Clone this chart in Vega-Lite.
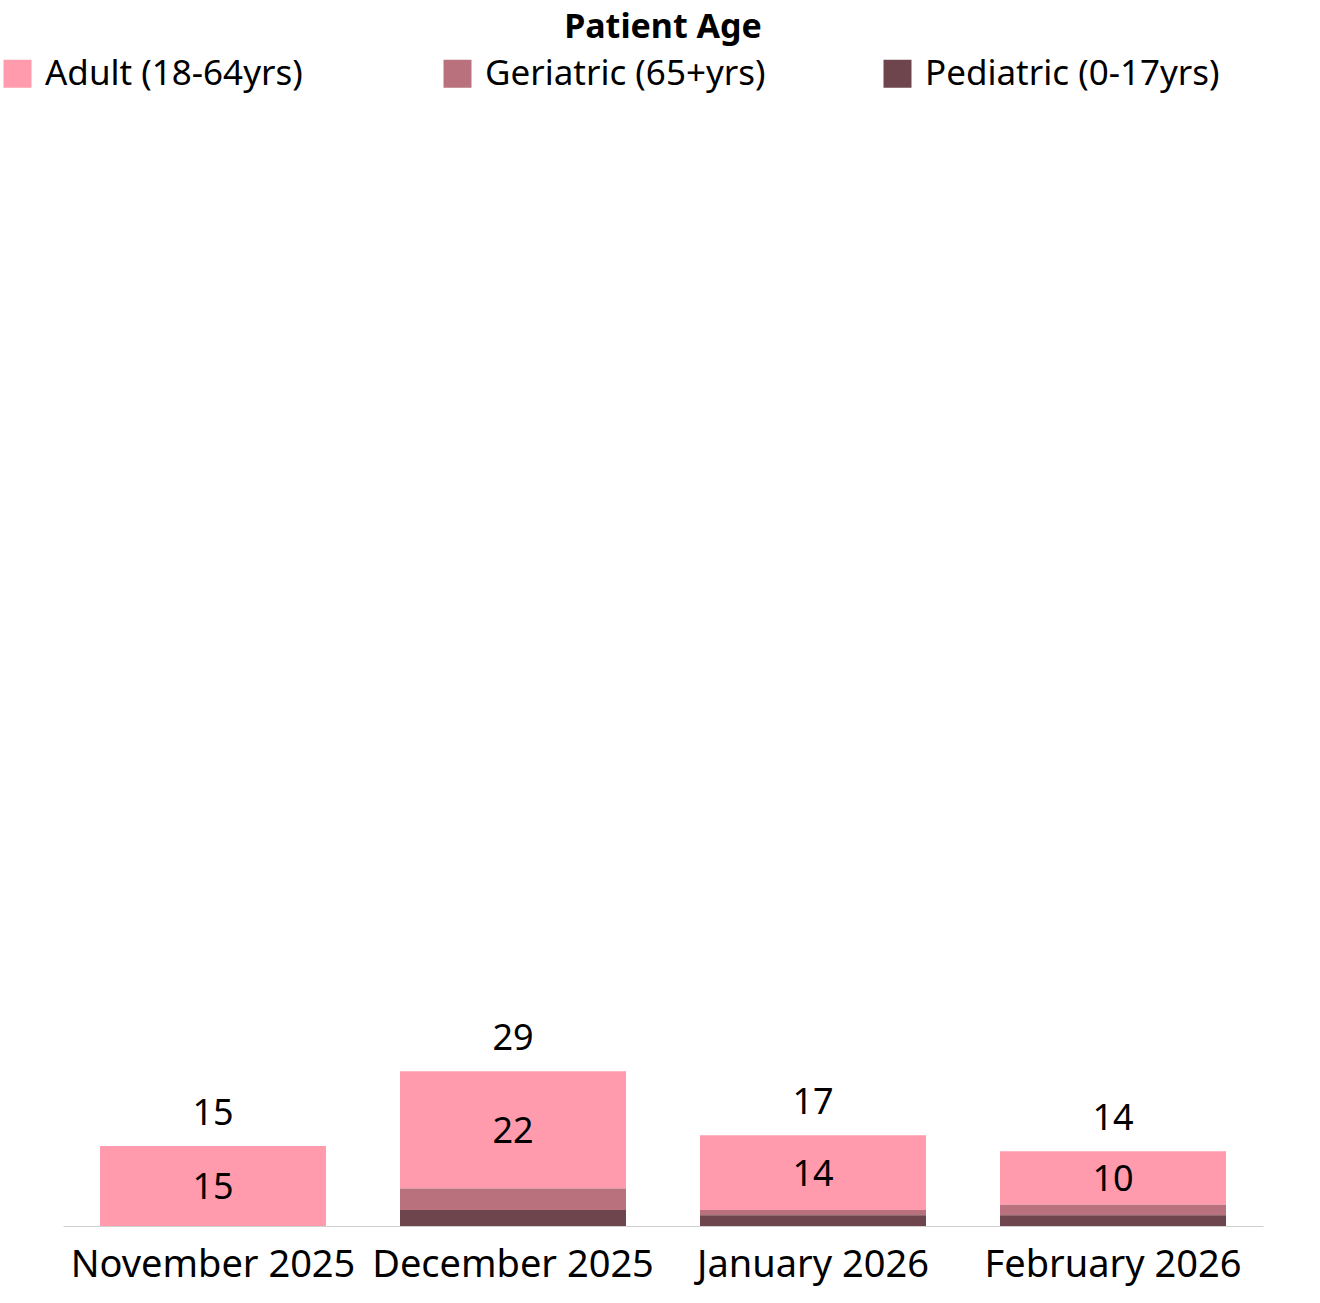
{
  "$schema": "https://vega.github.io/schema/vega-lite/v6.json",
  "width": 1200,
  "height": 1116,
  "autosize": {"type": "none"},
  "padding": {"left": 63, "top": 110, "right": 57, "bottom": 77},
  "background": "white",
  "config": {"view": {"stroke": null}},
  "title": {
    "text": "Patient Age",
    "font": "Noto Sans",
    "fontSize": 34,
    "fontWeight": "bold",
    "color": "#000000",
    "anchor": "middle",
    "frame": "group",
    "baseline": "middle",
    "offset": 0,
    "dy": 6
  },
  "data": {
    "values": [
      {"month": "November 2025", "age": "Adult (18-64yrs)", "count": 15},
      {"month": "December 2025", "age": "Adult (18-64yrs)", "count": 22},
      {"month": "December 2025", "age": "Geriatric (65+yrs)", "count": 4},
      {"month": "December 2025", "age": "Pediatric (0-17yrs)", "count": 3},
      {"month": "January 2026", "age": "Adult (18-64yrs)", "count": 14},
      {"month": "January 2026", "age": "Geriatric (65+yrs)", "count": 1},
      {"month": "January 2026", "age": "Pediatric (0-17yrs)", "count": 2},
      {"month": "February 2026", "age": "Adult (18-64yrs)", "count": 10},
      {"month": "February 2026", "age": "Geriatric (65+yrs)", "count": 2},
      {"month": "February 2026", "age": "Pediatric (0-17yrs)", "count": 2}
    ]
  },
  "transform": [
    {"joinaggregate": [{"op": "sum", "field": "count", "as": "total"}], "groupby": ["month"]},
    {"stack": "count", "groupby": ["month"], "sort": [{"field": "age", "order": "descending"}], "as": ["y0", "y1"]},
    {"calculate": "(datum.y0 + datum.y1) / 2", "as": "mid"}
  ],
  "encoding": {
    "x": {
      "field": "month",
      "type": "nominal",
      "sort": ["November 2025", "December 2025", "January 2026", "February 2026"],
      "scale": {"paddingInner": 0.2467, "paddingOuter": 0.1233},
      "axis": {
        "title": null,
        "labelAngle": 0,
        "ticks": false,
        "domainColor": "#d0d0d0",
        "domainWidth": 1,
        "labelFont": "Noto Sans",
        "labelFontSize": 38,
        "labelColor": "#000000",
        "labelPadding": 20,
        "labelLimit": 400
      }
    }
  },
  "layer": [
    {
      "mark": {"type": "bar"},
      "encoding": {
        "y": {"field": "y1", "type": "quantitative", "scale": {"domain": [0, 209], "nice": false, "zero": true}, "axis": null},
        "y2": {"field": "y0"},
        "color": {
          "field": "age",
          "type": "nominal",
          "scale": {
            "domain": ["Adult (18-64yrs)", "Geriatric (65+yrs)", "Pediatric (0-17yrs)"],
            "range": ["#FF9BAC", "#B9717E", "#6E444D"]
          },
          "legend": {
            "title": null,
            "orient": "none",
            "legendX": -63,
            "legendY": -54,
            "direction": "horizontal",
            "columns": 3,
            "gridAlign": "all",
            "columnPadding": 100,
            "symbolType": "square",
            "symbolSize": 784,
            "symbolStrokeWidth": 0,
            "symbolOpacity": 1,
            "labelFont": "Noto Sans",
            "labelFontSize": 35,
            "labelColor": "#000000",
            "labelOffset": 10,
            "labelLimit": 500
          }
        }
      }
    },
    {
      "transform": [{"filter": "datum.age === 'Adult (18-64yrs)'"}],
      "mark": {"type": "text", "font": "Noto Sans", "fontSize": 36, "color": "#000000", "baseline": "middle", "dy": 2},
      "encoding": {
        "y": {"field": "mid", "type": "quantitative"},
        "text": {"field": "count", "type": "quantitative"}
      }
    },
    {
      "transform": [{"filter": "datum.age === 'Adult (18-64yrs)'"}],
      "mark": {"type": "text", "font": "Noto Sans", "fontSize": 36, "color": "#000000", "baseline": "middle", "dy": -32},
      "encoding": {
        "y": {"field": "y1", "type": "quantitative"},
        "text": {"field": "total", "type": "quantitative"}
      }
    }
  ]
}
